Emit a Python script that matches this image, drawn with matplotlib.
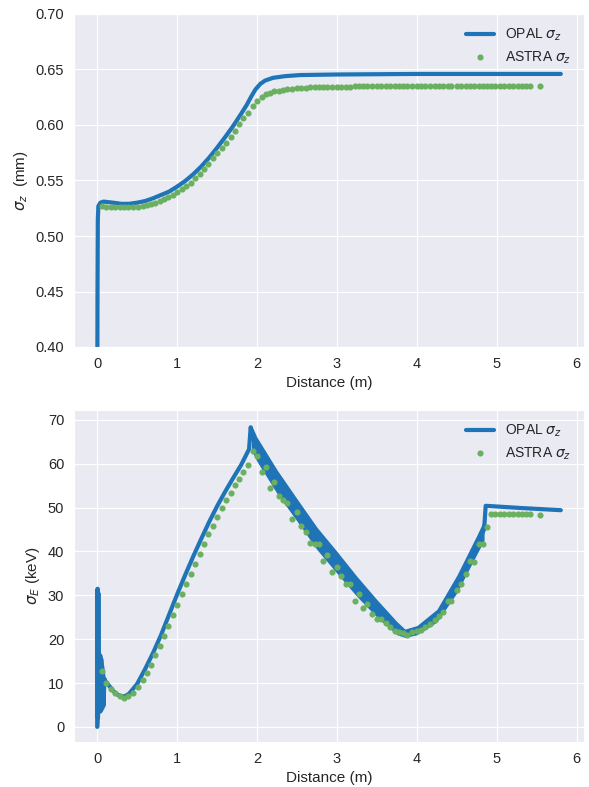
import numpy as np
import matplotlib
matplotlib.use('Agg')
from matplotlib import pyplot as plt
import seaborn as sns

sns.set_style('darkgrid')
plt.rcParams['font.family'] = ['Liberation Sans', 'DejaVu Sans']

blue = '#1f74b7'
green = '#6ab060'

## OPAL sigma_z (mm)
opal_sz_s = [0.0, 0.004, 0.008, 0.015, 0.04, 0.08, 0.2, 0.3, 0.4, 0.5, 0.6, 0.7, 0.8, 0.9, 1.0,
             1.1, 1.2, 1.3, 1.4, 1.5, 1.6, 1.7, 1.8, 1.87, 1.93, 1.98, 2.04, 2.1, 2.2, 2.35,
             2.54, 3.0, 4.0, 5.0, 5.8]
opal_sz = [0.30, 0.45, 0.515, 0.527, 0.530, 0.531, 0.530, 0.529, 0.529, 0.530, 0.5315, 0.534, 0.537,
           0.540, 0.5445, 0.5495, 0.5555, 0.5625, 0.5705, 0.5795, 0.589, 0.599, 0.610, 0.618,
           0.626, 0.632, 0.637, 0.640, 0.6425, 0.644, 0.645, 0.6455, 0.646, 0.646, 0.646]

## ASTRA positions (m), shared by both panels
astra_s = [0.06, 0.11, 0.17, 0.225, 0.29, 0.34, 0.39, 0.45, 0.51, 0.57,
           0.62, 0.67, 0.725, 0.78, 0.84, 0.89, 0.95, 1.0, 1.06, 1.11,
           1.17, 1.225, 1.28, 1.34, 1.39, 1.45, 1.5, 1.56, 1.61, 1.67,
           1.72, 1.78, 1.83, 1.89, 1.95, 2.0, 2.06, 2.11, 2.16, 2.21,
           2.27, 2.33, 2.38, 2.44, 2.5, 2.55, 2.61, 2.66, 2.72, 2.78,
           2.83, 2.88, 2.94, 3.0, 3.05, 3.11, 3.16, 3.22, 3.27, 3.33,
           3.38, 3.44, 3.5, 3.55, 3.61, 3.66, 3.72, 3.78, 3.83, 3.88,
           3.94, 4.0, 4.05, 4.1, 4.16, 4.22, 4.27, 4.33, 4.39, 4.43,
           4.5, 4.55, 4.61, 4.66, 4.72, 4.78, 4.83, 4.88, 4.93, 4.98,
           5.04, 5.09, 5.15, 5.2, 5.26, 5.31, 5.37, 5.42, 5.54]

astra_sz = [0.527, 0.5265, 0.5262, 0.526, 0.5258, 0.5258, 0.5258, 0.526, 0.5265, 0.527,
            0.528, 0.529, 0.530, 0.5315, 0.533, 0.535, 0.537, 0.5395, 0.542, 0.545,
            0.548, 0.552, 0.556, 0.5605, 0.565, 0.570, 0.5745, 0.579, 0.584, 0.589,
            0.595, 0.6005, 0.606, 0.611, 0.617, 0.6215, 0.625, 0.6275, 0.629, 0.6302,
            0.631, 0.6318, 0.6323, 0.6328, 0.6332, 0.6335, 0.6337, 0.6339, 0.634, 0.6341,
            0.6342, 0.6343, 0.6344, 0.6345, 0.6345, 0.6346, 0.6346, 0.6347, 0.6347, 0.6347,
            0.6348, 0.6348, 0.6348, 0.6348, 0.6349, 0.6349, 0.6349, 0.6349, 0.6349, 0.635,
            0.635, 0.635, 0.635, 0.635, 0.635, 0.635, 0.635, 0.635, 0.635, 0.635,
            0.635, 0.635, 0.635, 0.635, 0.635, 0.635, 0.635, 0.635, 0.635, 0.635,
            0.635, 0.635, 0.635, 0.635, 0.635, 0.635, 0.635, 0.635, 0.635]

## OPAL sigma_E (keV)
opal_se_s = [0.0, 0.005, 0.01, 0.015, 0.02, 0.03, 0.04, 0.05, 0.06, 0.07, 0.08, 0.09, 0.1,
             0.14, 0.2, 0.25, 0.3, 0.35, 0.4, 0.5, 0.6, 0.7, 0.8, 0.9, 1.0, 1.1, 1.2, 1.3,
             1.4, 1.5, 1.6, 1.7, 1.8, 1.9, 1.92,
             1.95, 2.0, 2.25, 2.5, 2.75, 3.0, 3.25, 3.5, 3.75, 3.85, 4.0, 4.25, 4.5, 4.75,
             4.84, 4.86, 5.3, 5.8]
opal_se = [0.0, 31.5, 2.0, 30.5, 4.0, 16.5, 3.5, 15.5, 4.5, 12.0, 5.0, 11.0, 10.5,
           9.6, 8.2, 7.4, 7.0, 7.0, 7.6, 9.8, 13.2, 16.9, 21.0, 25.6, 30.2, 34.6, 38.8, 42.8,
           46.7, 50.3, 53.6, 56.7, 59.7, 63.3, 68.3,
           66.0, 63.0, 56.0, 49.5, 43.0, 37.5, 32.0, 27.0, 22.5, 21.2, 22.0, 25.3, 32.5, 41.5,
           45.0, 50.4, 49.9, 49.4]

# width of the oscillating OPAL band
band_s = [1.93, 2.0, 2.25, 2.5, 2.75, 3.0, 3.25, 3.5, 3.75, 3.85, 4.0, 4.25, 4.5, 4.75, 4.84]
band_lo = [63.0, 60.5, 53.2, 46.9, 40.4, 35.0, 29.7, 25.0, 21.0, 20.4, 21.0, 23.9, 30.6, 39.4, 42.5]
band_hi = [68.8, 66.0, 58.6, 52.0, 45.5, 40.0, 34.3, 29.0, 24.0, 22.3, 23.1, 26.8, 34.6, 43.7, 47.2]

# oscillating start of the OPAL sigma_E curve
start_s = [0.0, 0.02, 0.03, 0.06, 0.09, 0.1]
start_lo = [0.0, 0.0, 3.5, 3.5, 4.5, 5.0]
start_hi = [31.8, 31.8, 16.5, 16.5, 13.0, 11.0]

astra_se = [12.8, 10.1, 8.7, 7.7, 7.0, 6.7, 7.0, 7.8, 9.0, 10.6,
            12.3, 14.2, 16.3, 18.5, 20.8, 23.0, 25.4, 27.9, 30.2, 32.6,
            34.9, 37.2, 39.5, 41.6, 43.9, 45.9, 47.9, 49.9, 51.8, 53.4,
            55.2, 56.6, 58.1, 59.6, 62.8, 61.7, 58.1, 59.2, 54.4, 55.9,
            52.7, 51.8, 51.1, 47.4, 49.1, 45.7, 44.4, 42.0, 41.6, 41.6,
            37.8, 39.3, 35.2, 36.5, 34.5, 32.6, 32.6, 28.8, 30.3, 27.0,
            28.1, 25.8, 24.7, 24.7, 23.6, 22.8, 21.9, 21.7, 21.3, 20.9,
            21.7, 21.9, 22.2, 22.8, 23.4, 24.3, 25.2, 26.2, 28.8, 28.8,
            31.1, 32.6, 34.8, 37.8, 37.7, 41.8, 41.6, 45.5, 48.6, 48.6,
            48.6, 48.6, 48.6, 48.5, 48.5, 48.5, 48.5, 48.5, 48.3]

W, H = 589, 787
fig = plt.figure(figsize=(W/100, H/100), dpi=100)
ax1 = fig.add_axes([74/W, 1-347/H, (584-74)/W, (347-14)/H])
ax2 = fig.add_axes([74/W, 1-742/H, (584-74)/W, (742-410)/H])

ax1.plot(opal_sz_s, opal_sz, color=blue, lw=3, label=r'OPAL $\sigma_z$')
ax1.plot(astra_s, astra_sz, 'o', color=green, ms=3.4, label=r'ASTRA $\sigma_z$')
ax1.set_ylim(0.40, 0.70)
ax1.set_xlabel('Distance (m)', fontsize=11)
ax1.set_ylabel(r'$\sigma_z$  (mm)', fontsize=11)
ax1.legend(loc='upper right', numpoints=1, fontsize=10, frameon=False)

ax2.fill_between(start_s, start_lo, start_hi, color=blue, lw=0)
ax2.fill_between(band_s, band_lo, band_hi, color=blue, lw=0)
ax2.plot(opal_se_s, opal_se, color=blue, lw=3, label=r'OPAL $\sigma_z$')
ax2.plot(astra_s, astra_se, 'o', color=green, ms=3.4, label=r'ASTRA $\sigma_z$')
ax2.set_xlabel('Distance (m)', fontsize=11)
ax2.set_ylabel(r'$\sigma_E$ (keV)', fontsize=11)
ax2.legend(loc='upper right', numpoints=1, fontsize=10, frameon=False)

for ax in (ax1, ax2):
    ax.set_xticks(range(7))
    ax.tick_params(labelsize=10.5)

fig.savefig('out.png', dpi=100)
